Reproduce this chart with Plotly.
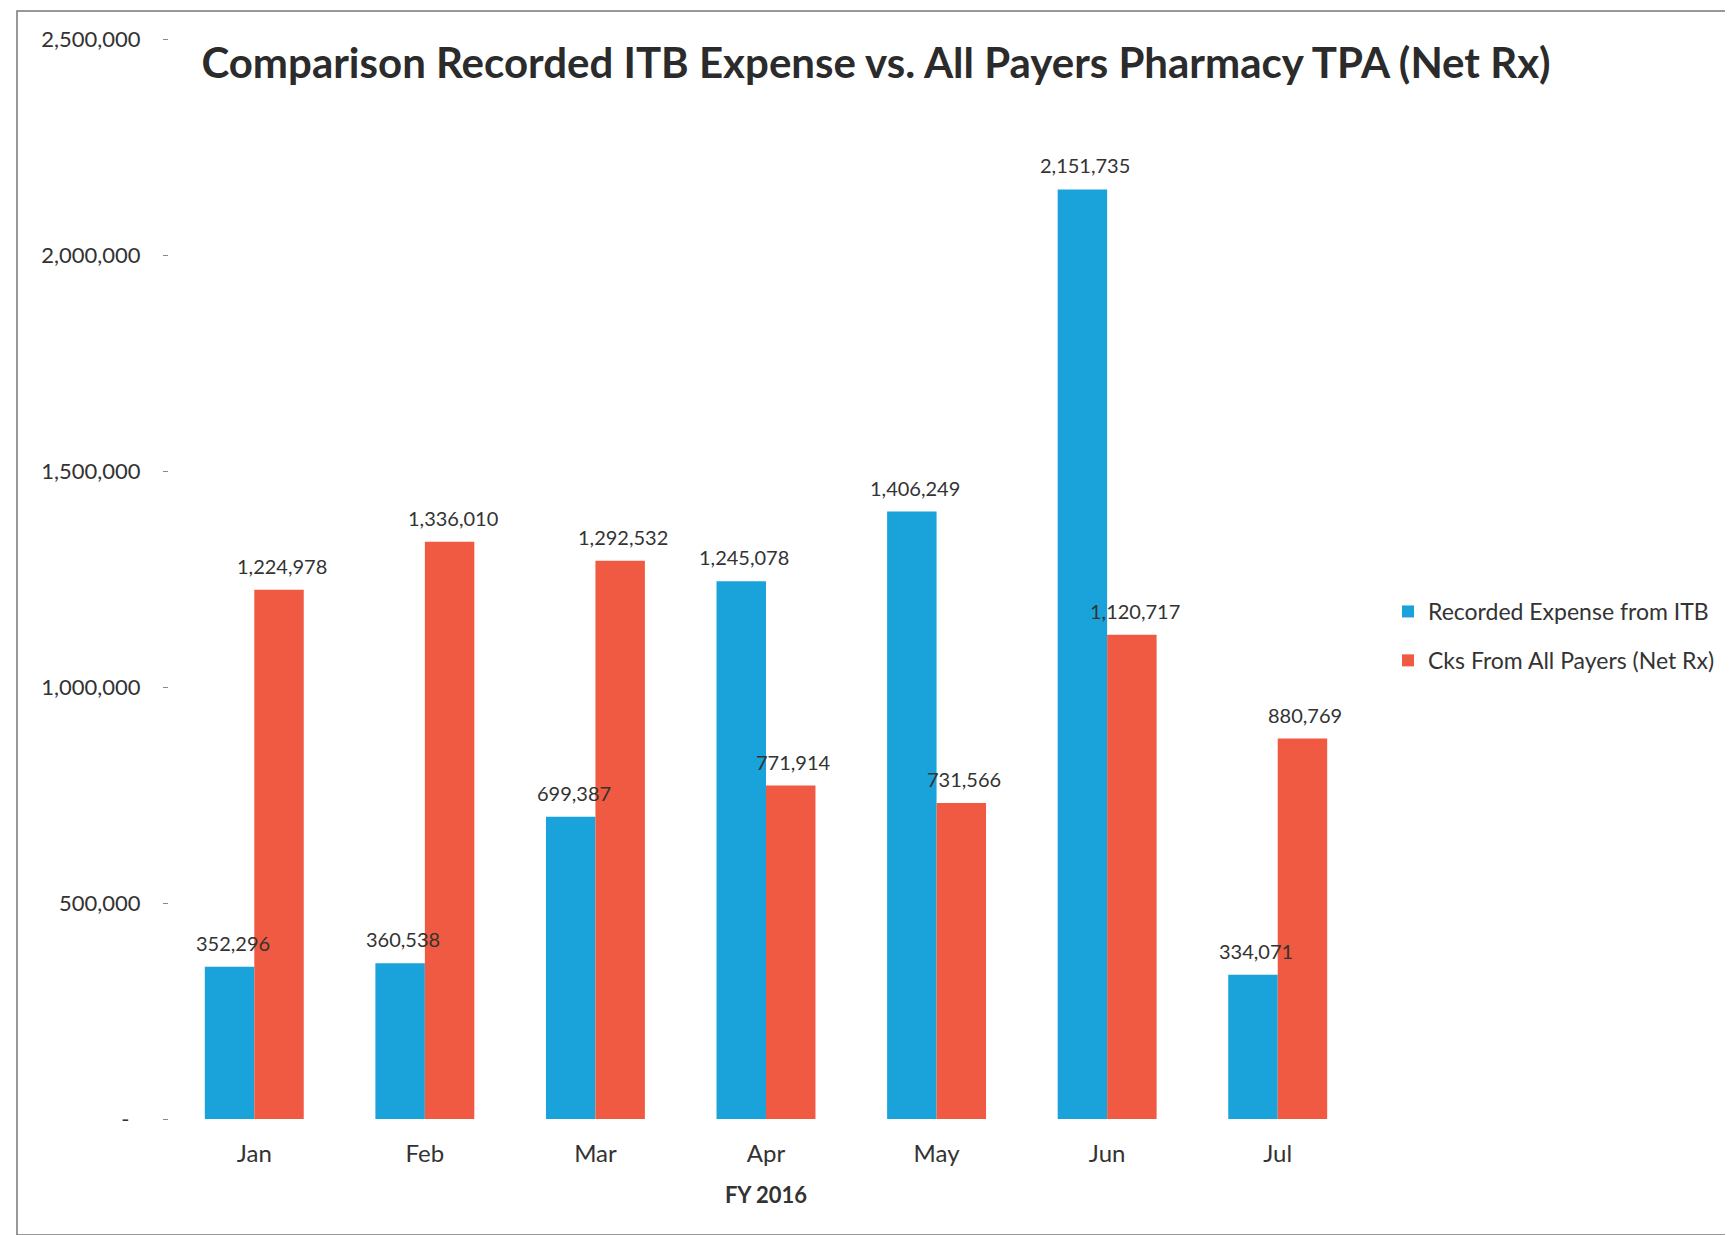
import plotly.graph_objects as go

months = ["Jan", "Feb", "Mar", "Apr", "May", "Jun", "Jul"]
itb_expense = [352296, 360538, 699387, 1245078, 1406249, 2151735, 334071]
all_payers = [1224978, 1336010, 1292532, 771914, 731566, 1120717, 880769]
series_names = ["Recorded Expense from ITB", "Cks From All Payers (Net Rx)"]
y_ticks = [0, 500000, 1000000, 1500000, 2000000, 2500000]
y_ticktext = ["-\u00a0\u00a0", "500,000", "1,000,000", "1,500,000", "2,000,000", "2,500,000"]

W, H = 1733, 1235
L, R, T, B = 161, 378, 31, 124
pw, ph = W - L - R, H - T - B

FONT = "Lato, 'Open Sans', sans-serif"
BLUE = "#1AA2DA"
RED = "#F05A42"
BARGAP = 0.42
cat_w = pw / len(months)
bar_w = cat_w * (1 - BARGAP) / 2

fig = go.Figure()
annotations = []
for idx, (name, vals, col, grp) in enumerate([(series_names[0], itb_expense, BLUE, "a"),
                                               (series_names[1], all_payers, RED, "b")]):
    fig.add_trace(go.Bar(
        x=months, y=vals, name=name, marker=dict(color=col, line=dict(width=0)),
        legendgroup=grp,
    ))
    shift = (-0.5 if idx == 0 else 0.5) * bar_w + 3
    for m, v in zip(months, vals):
        annotations.append(dict(
            x=m, y=v, xref="x", yref="y", text=f"{v:,}", showarrow=False,
            xanchor="center", yanchor="middle", xshift=shift, yshift=24,
            font=dict(family=FONT, size=20, color="#333333"),
        ))

def px_to_paper_x(px):
    return (px - L) / pw

def px_to_paper_y(py):
    return (H - B - py) / ph

fig.update_layout(
    width=W, height=H,
    margin=dict(l=L, r=R, t=T, b=B),
    paper_bgcolor="white", plot_bgcolor="white",
    barmode="group", bargap=BARGAP, bargroupgap=0,
    font=dict(family=FONT, color="#333333"),
    title=dict(text="<b>Comparison Recorded ITB Expense vs. All Payers Pharmacy TPA (Net Rx)</b>",
               x=px_to_paper_x(868), xref="paper", xanchor="center",
               y=1 - 55 / H, yanchor="middle",
               font=dict(family=FONT, size=42, color="#2b2b2b")),
    legend=dict(x=px_to_paper_x(1380), xanchor="left", y=px_to_paper_y(628), yanchor="middle",
                font=dict(family=FONT, size=23, color="#333333"),
                tracegroupgap=16, bgcolor="rgba(0,0,0,0)"),
    xaxis=dict(showgrid=False, showline=False, ticks="",
               tickfont=dict(family=FONT, size=24, color="#333333"),
               ticklabelstandoff=18,
               title=dict(text="<b>FY 2016</b>", font=dict(family=FONT, size=22, color="#333333"),
                          standoff=21)),
    yaxis=dict(range=[0, 2500000], tickvals=y_ticks, ticktext=y_ticktext,
               showgrid=False, showline=False, zeroline=False,
               ticks="outside", ticklen=5, tickcolor="#888888",
               tickfont=dict(family=FONT, size=22, color="#333333"),
               ticklabelstandoff=18),
    annotations=annotations,
    shapes=[dict(type="rect", xref="paper", yref="paper",
                 x0=px_to_paper_x(9), x1=px_to_paper_x(1729),
                 y0=px_to_paper_y(1227), y1=px_to_paper_y(3),
                 line=dict(color="#777777", width=1.5), fillcolor="rgba(0,0,0,0)")],
)

fig.write_html("out.html")
